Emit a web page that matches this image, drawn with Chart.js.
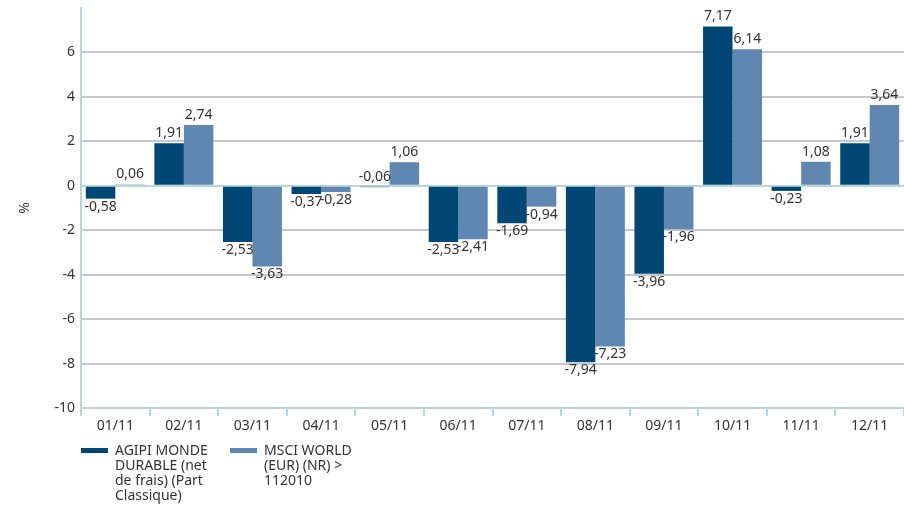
<!DOCTYPE html>
<html>
<head>
<meta charset="utf-8">
<script src="https://cdn.jsdelivr.net/npm/chart.js@4"></script>
<style>
  html, body { margin: 0; padding: 0; background: #fff; }
  #wrap { position: relative; width: 904px; height: 510px; }
  #legend { position: absolute; left: 81px; top: 442px; display: flex; font-family: "Noto Sans", sans-serif; font-size: 14px; line-height: 15px; color: #333; }
  .item { display: flex; align-items: flex-start; margin-right: 10px; }
  .sw { width: 27px; height: 5px; margin-top: 6px; margin-right: 7px; }
  .txt { width: 105px; }
</style>
</head>
<body>
<div id="wrap">
  <canvas id="perfChart" width="904" height="510"></canvas>
  <div id="legend"></div>
</div>
<script>
// monthly performance 2011, in %
const months = ["01/11", "02/11", "03/11", "04/11", "05/11", "06/11", "07/11", "08/11", "09/11", "10/11", "11/11", "12/11"];
const fundValues = [-0.58, 1.91, -2.53, -0.37, -0.06, -2.53, -1.69, -7.94, -3.96, 7.17, -0.23, 1.91];
const indexValues = [0.06, 2.74, -3.63, -0.28, 1.06, -2.41, -0.94, -7.23, -1.96, 6.14, 1.08, 3.64];
const seriesNames = ["AGIPI MONDE DURABLE (net de frais) (Part Classique)", "MSCI WORLD (EUR) (NR) > 112010"];
const seriesColors = ["#004775", "#5f87b1"];
const yTicks = [-10, -8, -6, -4, -2, 0, 2, 4, 6];

const FONT = '"Noto Sans", sans-serif';

// draws the value above / below each bar, french decimal comma
const valueLabels = {
  id: 'valueLabels',
  afterDatasetsDraw(chart) {
    const ctx = chart.ctx;
    ctx.save();
    ctx.font = '14px ' + FONT;
    ctx.fillStyle = '#333';
    ctx.textAlign = 'center';
    chart.data.datasets.forEach((ds, i) => {
      chart.getDatasetMeta(i).data.forEach((bar, j) => {
        const v = ds.data[j];
        const txt = v.toFixed(2).replace('.', ',');
        if (v >= 0 || Math.abs(v) < 0.1) {
          ctx.textBaseline = 'bottom';
          ctx.fillText(txt, bar.x, Math.min(bar.y, bar.base) - 3);
        } else {
          ctx.textBaseline = 'top';
          ctx.fillText(txt, bar.x, bar.y + 1);
        }
      });
    });
    ctx.restore();
  }
};

document.addEventListener("DOMContentLoaded", () => {
  const ctx = document.getElementById("perfChart").getContext("2d");
  new Chart(ctx, {
    type: 'bar',
    data: {
      labels: months,
      datasets: [
        { label: seriesNames[0], data: fundValues, backgroundColor: seriesColors[0] },
        { label: seriesNames[1], data: indexValues, backgroundColor: seriesColors[1] }
      ]
    },
    options: {
      responsive: false,
      animation: false,
      layout: { padding: { top: 8, right: 0, bottom: 70, left: 17 } },
      datasets: { bar: { categoryPercentage: 0.86, barPercentage: 1.0 } },
      plugins: {
        legend: { display: false },
        tooltip: { enabled: false }
      },
      scales: {
        x: {
          grid: { offset: true, drawOnChartArea: false, tickLength: 8, color: '#b7d7de', lineWidth: 2 },
          border: { color: '#b7d7de', width: 2 },
          ticks: { color: '#333', font: { family: FONT, size: 14 }, padding: 2 },
          afterFit(scale) { scale.height = 32; }
        },
        y: {
          min: -10,
          max: 8,
          afterBuildTicks(scale) { scale.ticks = yTicks.map(v => ({ value: v })); },
          ticks: {
            color: '#333',
            font: { family: FONT, size: 14 },
            padding: 6
          },
          grid: {
            drawTicks: false,
            lineWidth: 2,
            color: c => c.tick.value === 0 ? '#b7d7de' : '#c8c8c8'
          },
          border: { color: '#b7d7de', width: 2 },
          title: { display: true, text: '%', color: '#333', font: { family: FONT, size: 14 }, padding: 0 },
          afterFit(scale) {
            scale.width = 64;
            scale.paddingTop = 0;
            scale.paddingBottom = 0;
          }
        }
      }
    },
    plugins: [valueLabels]
  });

  // html legend, wrapped text like the original
  const legend = document.getElementById("legend");
  seriesNames.forEach((name, i) => {
    const item = document.createElement("div");
    item.className = "item";
    item.innerHTML = '<div class="sw" style="background:' + seriesColors[i] + '"></div><div class="txt">' + name + '</div>';
    legend.appendChild(item);
  });
});
</script>
</body>
</html>
